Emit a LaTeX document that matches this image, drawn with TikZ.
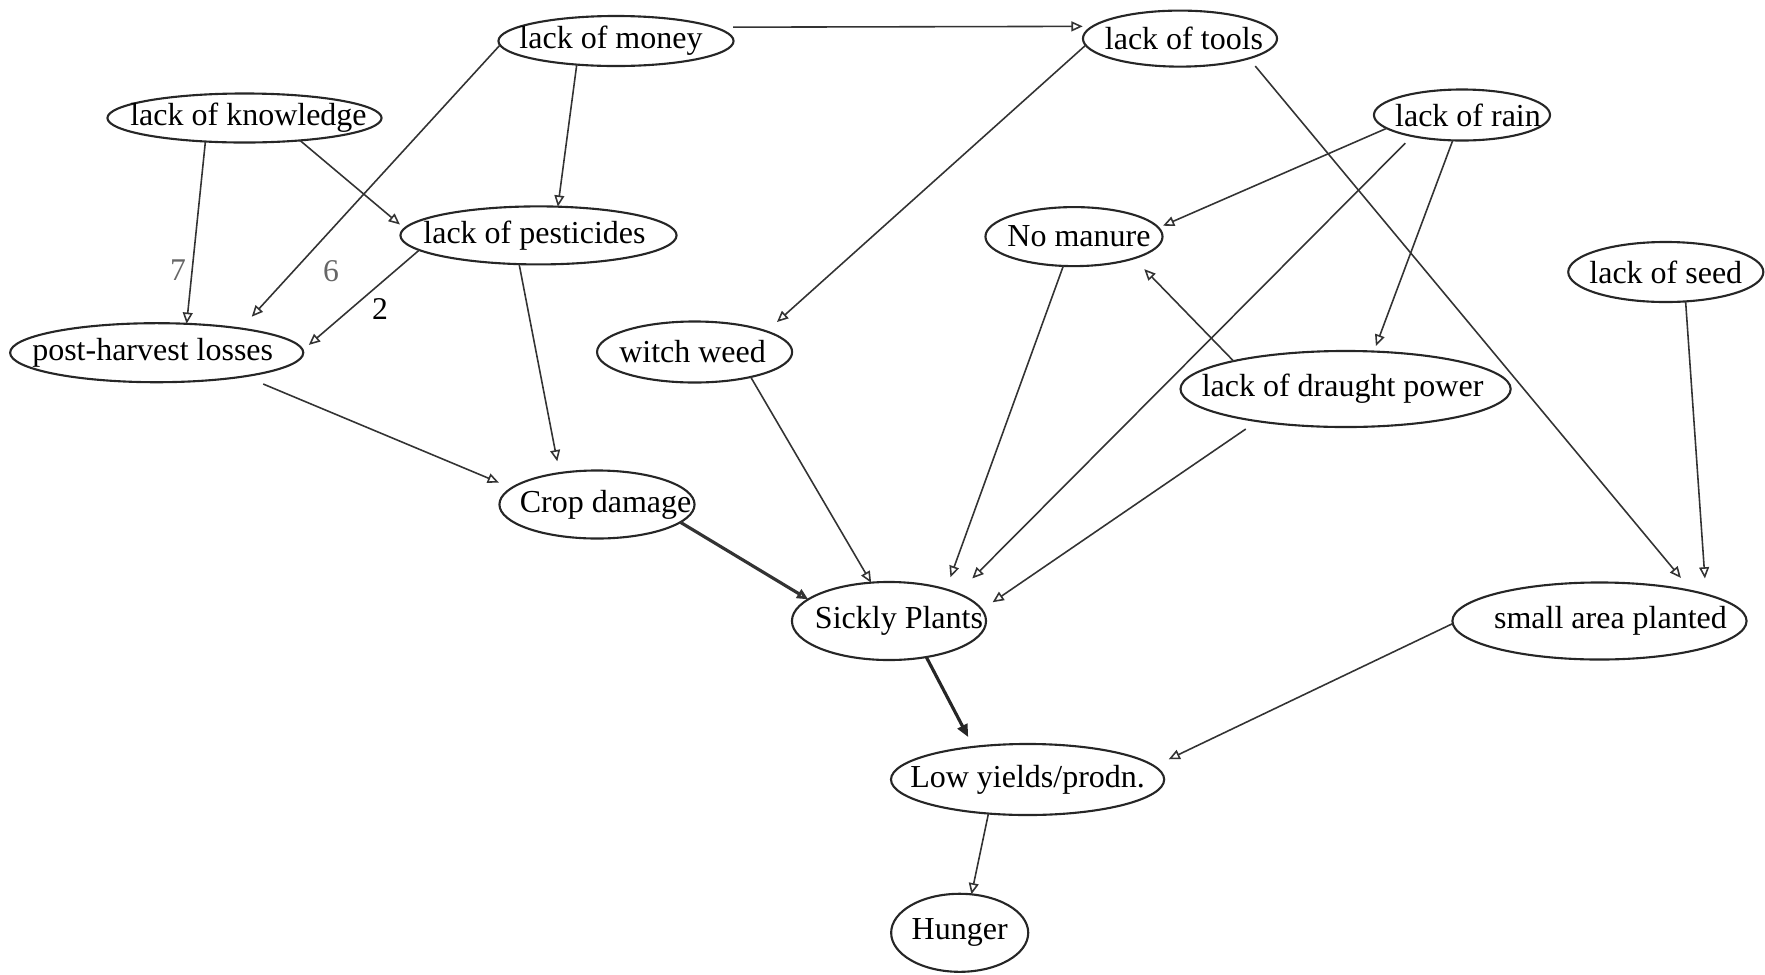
\documentclass[tikz,border=0pt]{standalone}
\usepackage{fontspec}
\setmainfont{Liberation Serif}
\usetikzlibrary{shapes.geometric,arrows.meta}
% centred label of zero width, so the ellipse keeps its set size; optional shift
\newcommand\ctr[2][0cm]{\makebox[0pt]{\hspace*{#1}#2\hspace*{-#1}}}

\begin{document}
\begin{tikzpicture}[x=0.01cm,y=-0.01cm,
  cnode/.style={ellipse, draw=black!85, line width=0.6pt, inner sep=0pt, outer sep=0pt,
                font=\fontsize{9.1}{11}\selectfont},
  link/.style={draw=black!80, line width=0.45pt,
               -{Triangle[open,length=3.2pt,width=2.8pt]}},
  boldlink/.style={draw=black!85, line width=0.9pt,
               -{Triangle[length=3.6pt,width=3pt]}},
  num/.style={font=\fontsize{9}{11}\selectfont, inner sep=0pt}
]
\useasboundingbox (0,0) rectangle (1765,975);

% concepts
\node[cnode, minimum width=2.35cm, minimum height=0.50cm] (money)   at (616,41)    {\ctr[-0.05cm]{lack of money}};
\node[cnode, minimum width=1.94cm, minimum height=0.56cm] (tools)   at (1180,38.6) {\ctr[0.04cm]{lack of tools}};
\node[cnode, minimum width=2.74cm, minimum height=0.49cm] (know)    at (244.5,118) {\ctr[0.04cm]{lack of knowledge}};
\node[cnode, minimum width=1.76cm, minimum height=0.51cm] (rain)    at (1462,115)  {\ctr[0.06cm]{lack of rain}};
\node[cnode, minimum width=2.76cm, minimum height=0.58cm] (pest)    at (538.5,235.4) {\ctr[-0.04cm]{lack of pesticides}};
\node[cnode, minimum width=1.77cm, minimum height=0.59cm] (manure)  at (1074,236.6) {\ctr[0.05cm]{No manure}};
\node[cnode, minimum width=1.95cm, minimum height=0.60cm] (seed)    at (1665.8,272) {\ctr{lack of seed}};
\node[cnode, minimum width=2.93cm, minimum height=0.59cm] (ph)      at (156.7,352.7) {\ctr[-0.04cm]{post-harvest losses}};
\node[cnode, minimum width=1.95cm, minimum height=0.61cm] (witch)   at (694.6,352) {\ctr[-0.02cm]{witch weed}};
\node[cnode, minimum width=3.30cm, minimum height=0.76cm] (draught) at (1345.6,389) {\ctr[-0.03cm]{lack of draught power}};
\node[cnode, minimum width=1.95cm, minimum height=0.68cm] (crop)    at (597,504.5) {\ctr[0.086cm]{Crop damage}};
\node[cnode, minimum width=1.94cm, minimum height=0.78cm] (sickly)  at (889,621) {\ctr[0.1cm]{Sickly Plants}};
\node[cnode, minimum width=2.94cm, minimum height=0.77cm] (small)   at (1599.5,621) {\ctr[0.11cm]{small area planted}};
\node[cnode, minimum width=2.73cm, minimum height=0.71cm] (low)     at (1027.6,779.5) {\ctr{Low yields/prodn.}};
\node[cnode, minimum width=1.37cm, minimum height=0.78cm] (hunger)  at (959.7,932.8) {\ctr{Hunger}};

% link weights
\node[num, text=black!60] (w7) at (178,270) {7};
\node[num, text=black!60] (w6) at (331,271) {6};
\node[num, text=black]    (w2) at (380,309) {2};

% causal links
\draw[link, shorten <=0.19cm, shorten >=0.1cm] (money.8) -- (tools.172.8);
\draw[link, shorten >=0.16cm] (money.182.3) -- (ph.16.7);
\draw[link] (money.211.3) -- (pest.56);
\draw[link] (know.211.2) -- (ph.44.4);
\draw[link, shorten >=0.06cm] (know.338.1) -- (pest.177.3);
\draw[link, shorten >=0.08cm] (pest.187.4) -- (ph.1.9);
\draw[link, shorten >=0.12cm] (pest.236.7) -- (crop.140.5);
\draw[link, shorten <=0.2cm, shorten >=0.14cm] (ph.345.4) -- (crop.169.3);
\draw[link, shorten >=0.14cm] (tools.184.9) -- (witch.16.9);
\draw[link, shorten <=0.1cm, shorten >=0.17cm] (tools.344.4) -- (small.18);
\draw[link, shorten >=0.05cm] (rain.190) -- (manure.6.1);
\draw[link, shorten <=0.1cm, shorten >=0.21cm] (rain.203) -- (sickly.22.5);
\draw[link, shorten >=0.06cm] (rain.250) -- (draught.53.5);
\draw[link, shorten >=0.15cm] (draught.166) -- (manure.340.6);
\draw[link, shorten >=0.13cm] (manure.250.2) -- (sickly.29.7);
\draw[link, shorten <=0.14cm, shorten >=0.13cm] (draught.200) -- (sickly.7);
\draw[link] (witch.336.2) -- (sickly.115.7);
\draw[link, line width=0.9pt] (crop.348.6) -- (sickly.165.6);
\draw[link, shorten >=0.16cm] (seed.304.3) -- (small.14.4);
\draw[boldlink, shorten >=0.11cm] (sickly.316.4) -- (low.149.1);
\draw[link, shorten >=0.16cm] (small.181.1) -- (low.6.4);
\draw[link] (low.221.2) -- (hunger.73.9);
\end{tikzpicture}
\end{document}
